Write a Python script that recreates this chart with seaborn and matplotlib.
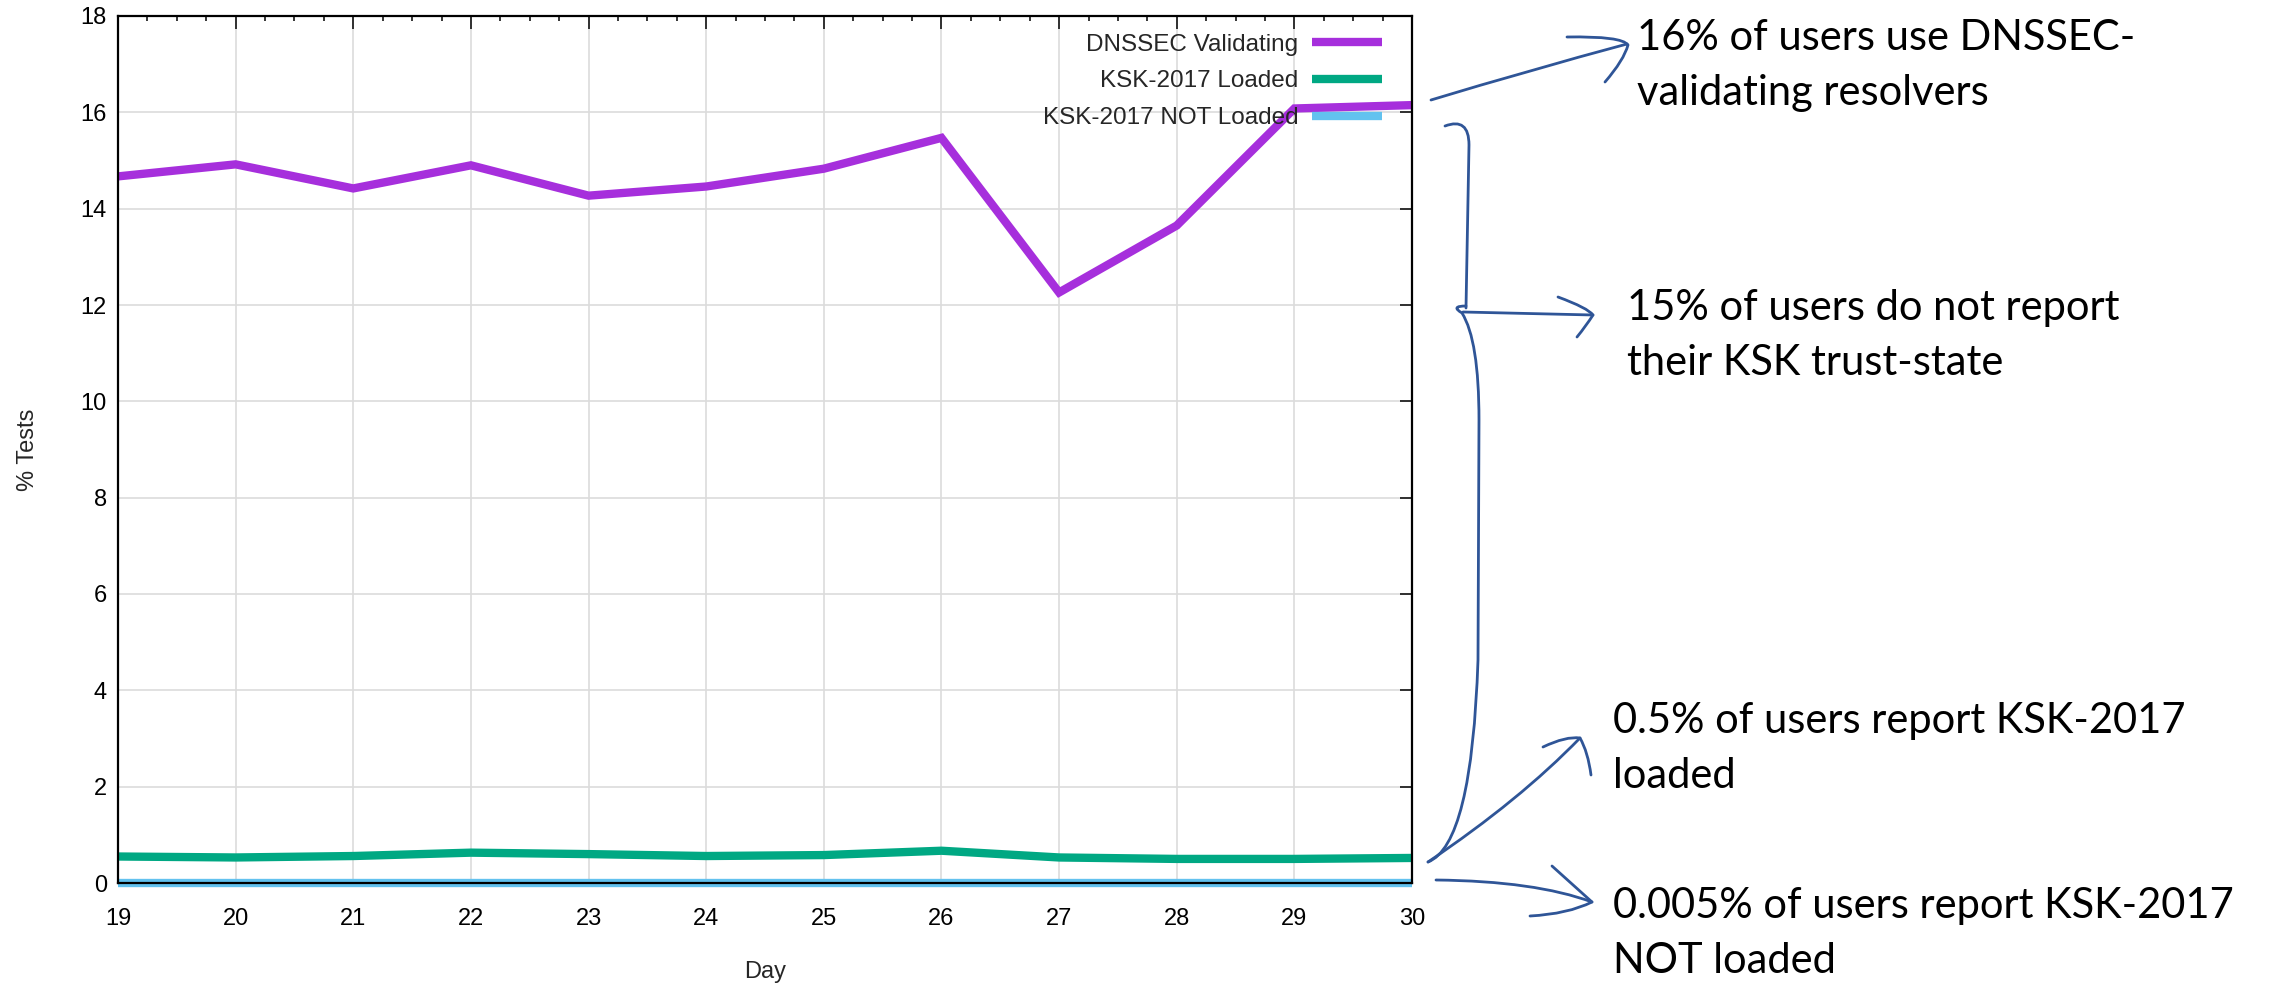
import numpy as np
import pandas as pd
import matplotlib
matplotlib.use("Agg")
import matplotlib.pyplot as plt
from matplotlib.path import Path
from matplotlib.patches import PathPatch
from matplotlib.ticker import MultipleLocator
import seaborn as sns

# data
days = [19, 20, 21, 22, 23, 24, 25, 26, 27, 28, 29, 30]
dnssec_validating = [14.67, 14.92, 14.42, 14.90, 14.27, 14.46, 14.83, 15.47, 12.26, 13.65, 16.08, 16.15]
ksk_loaded = [0.55, 0.53, 0.56, 0.63, 0.60, 0.56, 0.58, 0.67, 0.53, 0.50, 0.50, 0.52]
ksk_not_loaded = [0.005, 0.005, 0.005, 0.005, 0.005, 0.005, 0.005, 0.005, 0.005, 0.005, 0.005, 0.005]

series_names = ["DNSSEC Validating", "KSK-2017 Loaded", "KSK-2017 NOT Loaded"]
series_colors = ["#a62fdc", "#00a883", "#62c2ef"]

notes = [
    ["16% of users use DNSSEC-", "validating resolvers"],
    ["15% of users do not report", "their KSK trust-state"],
    ["0.5% of users report KSK-2017", "loaded"],
    ["0.005% of users report KSK-2017", "NOT loaded"],
]

W, H = 2274, 986
sns.set_style("white")
plt.rcParams["font.family"] = ["Liberation Sans", "DejaVu Sans"]

df = pd.DataFrame({
    "Day": days * 3,
    "pct": dnssec_validating + ksk_loaded + ksk_not_loaded,
    "series": np.repeat(series_names, len(days)),
})

fig = plt.figure(figsize=(W / 100, H / 100), dpi=100)
ax = fig.add_axes([118 / W, 1 - 883 / H, 1294 / W, 867 / H])

sns.lineplot(data=df, x="Day", y="pct", hue="series", hue_order=series_names,
             palette=series_colors, linewidth=6, ax=ax, legend=True)
for ln in ax.lines:
    ln.set_solid_capstyle("butt")
    ln.set_solid_joinstyle("miter")
    ln.set_clip_on(False)

ax.set_xlim(19, 30)
ax.set_ylim(0, 18)
ax.xaxis.set_major_locator(MultipleLocator(1))
ax.xaxis.set_minor_locator(MultipleLocator(0.25))
ax.yaxis.set_major_locator(MultipleLocator(2))
ax.grid(True, which="major", color="#dcdcdc", linewidth=1.2)
ax.set_axisbelow(True)
ax.tick_params(which="both", direction="in", top=True, right=True, width=1.1, colors="black")
ax.tick_params(which="major", length=9, labelsize=17)
ax.tick_params(axis="x", which="major", pad=18)
ax.tick_params(axis="y", which="major", pad=8)
ax.tick_params(axis="x", which="minor", length=3.5)
for sp in ax.spines.values():
    sp.set_linewidth(1.6)
    sp.set_color("black")
    sp.set_zorder(3)

ax.set_xlabel("Day", fontsize=17, labelpad=22)
ax.set_ylabel("% Tests", fontsize=17, labelpad=30)

leg = ax.legend(loc="upper right", frameon=False, markerfirst=False, fontsize=17.5,
                handlelength=2.9, handletextpad=0.55, labelspacing=0.6,
                bbox_to_anchor=(0.99, 0.999), borderaxespad=0.3)
for h in leg.get_lines():
    h.set_linewidth(6)
    h.set_solid_capstyle("butt")


# hand-drawn annotations, given in pixel coords measured from top-left
def to_fig(x, y):
    return (x / W, 1 - y / H)


def stroke(verts, codes):
    path = Path([to_fig(*v) for v in verts], codes)
    fig.add_artist(PathPatch(path, transform=fig.transFigure, fill=False,
                             edgecolor="#2f5597", linewidth=2.0,
                             capstyle="round", joinstyle="round"))


M, L, Q = Path.MOVETO, Path.LINETO, Path.CURVE3
# arrow to 16%
stroke([(1431, 100), (1530, 70), (1627, 44)], [M, Q, Q])
stroke([(1567, 37), (1622, 36), (1628, 45), (1624, 60), (1605, 82)], [M, Q, Q, Q, Q])
# bracket
stroke([(1445, 126), (1469, 117), (1469, 145), (1466, 308)], [M, Q, Q, L])
stroke([(1466, 306), (1450, 306), (1462, 313), (1479, 340), (1479, 420),
        (1478, 660), (1472, 845), (1428, 862)],
       [M, Q, Q, Q, Q, L, Q, Q])
# arrow to 15%
stroke([(1463, 312), (1593, 315)], [M, L])
stroke([(1558, 297), (1588, 308), (1593, 315), (1586, 326), (1577, 337)], [M, Q, Q, Q, Q])
# arrow to 0.5%
stroke([(1428, 862), (1520, 800), (1580, 738)], [M, Q, Q])
stroke([(1543, 747), (1566, 736), (1580, 738), (1588, 752), (1591, 775)], [M, Q, Q, Q, Q])
# arrow to 0.005%
stroke([(1436, 880), (1535, 881), (1592, 902)], [M, Q, Q])
stroke([(1552, 866), (1592, 902), (1568, 914), (1530, 916)], [M, L, Q, Q])

note_x = [1637, 1627, 1613, 1613]
note_base = [(50, 105), (320, 375), (733, 788), (918, 973)]
for lines, x0, bases in zip(notes, note_x, note_base):
    for txt, yb in zip(lines, bases):
        fig.text(*to_fig(x0, yb), txt, fontsize=30, va="baseline", ha="left",
                 family=["Lato", "DejaVu Sans"], color="black")

fig.savefig("out.png", dpi=100)
